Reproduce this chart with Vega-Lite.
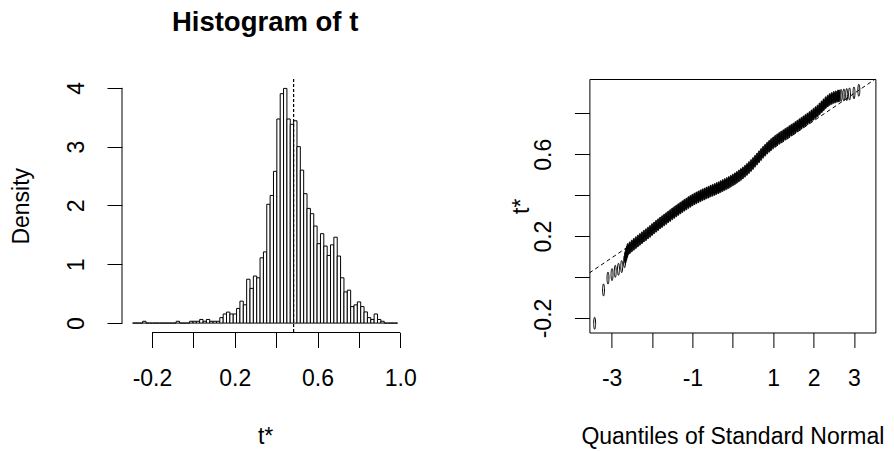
{
  "$schema": "https://vega.github.io/schema/vega-lite/v6.json",
  "background": "white",
  "padding": {"left": 10, "top": 9, "right": 0, "bottom": 0},
  "bounds": "flush",
  "spacing": 180.4,
  "config": {
    "font": "Liberation Sans",
    "view": {"stroke": null},
    "axis": {
      "domain": false, "grid": false,
      "tickColor": "black", "tickSize": 15, "tickWidth": 1,
      "labelColor": "black", "labelFont": "Liberation Sans", "labelFontSize": 23,
      "titleFont": "Liberation Sans", "titleFontSize": 23, "titleFontWeight": "normal", "titleColor": "black",
      "labelBaseline": "alphabetic", "titleBaseline": "alphabetic",
      "labelOverlap": false, "labelFlush": false, "labelBound": false
    }
  },
  "datasets": {
    "hist": [
      {"lo": -0.2937, "hi": -0.2775, "density": 0},
      {"lo": -0.2775, "hi": -0.2613, "density": 0},
      {"lo": -0.2613, "hi": -0.2451, "density": 0},
      {"lo": -0.2451, "hi": -0.2288, "density": 0.031},
      {"lo": -0.2288, "hi": -0.2126, "density": 0},
      {"lo": -0.2126, "hi": -0.1964, "density": 0},
      {"lo": -0.1964, "hi": -0.1802, "density": 0},
      {"lo": -0.1802, "hi": -0.1640, "density": 0},
      {"lo": -0.1640, "hi": -0.1478, "density": 0},
      {"lo": -0.1478, "hi": -0.1316, "density": 0},
      {"lo": -0.1316, "hi": -0.1154, "density": 0},
      {"lo": -0.1154, "hi": -0.0992, "density": 0},
      {"lo": -0.0992, "hi": -0.0830, "density": 0},
      {"lo": -0.0830, "hi": -0.0667, "density": 0.031},
      {"lo": -0.0667, "hi": -0.0505, "density": 0},
      {"lo": -0.0505, "hi": -0.0343, "density": 0},
      {"lo": -0.0343, "hi": -0.0181, "density": 0},
      {"lo": -0.0181, "hi": -0.0019, "density": 0.031},
      {"lo": -0.0019, "hi": 0.0143, "density": 0.031},
      {"lo": 0.0143, "hi": 0.0305, "density": 0.031},
      {"lo": 0.0305, "hi": 0.0467, "density": 0.062},
      {"lo": 0.0467, "hi": 0.0629, "density": 0.031},
      {"lo": 0.0629, "hi": 0.0792, "density": 0.062},
      {"lo": 0.0792, "hi": 0.0954, "density": 0.031},
      {"lo": 0.0954, "hi": 0.1116, "density": 0.031},
      {"lo": 0.1116, "hi": 0.1278, "density": 0.031},
      {"lo": 0.1278, "hi": 0.1440, "density": 0.093},
      {"lo": 0.1440, "hi": 0.1602, "density": 0.155},
      {"lo": 0.1602, "hi": 0.1764, "density": 0.187},
      {"lo": 0.1764, "hi": 0.1926, "density": 0.155},
      {"lo": 0.1926, "hi": 0.2088, "density": 0.155},
      {"lo": 0.2088, "hi": 0.2250, "density": 0.249},
      {"lo": 0.2250, "hi": 0.2413, "density": 0.373},
      {"lo": 0.2413, "hi": 0.2575, "density": 0.311},
      {"lo": 0.2575, "hi": 0.2737, "density": 0.746},
      {"lo": 0.2737, "hi": 0.2899, "density": 0.59},
      {"lo": 0.2899, "hi": 0.3061, "density": 0.8},
      {"lo": 0.3061, "hi": 0.3223, "density": 0.77},
      {"lo": 0.3223, "hi": 0.3385, "density": 1.11},
      {"lo": 0.3385, "hi": 0.3547, "density": 1.21},
      {"lo": 0.3547, "hi": 0.3709, "density": 2.02},
      {"lo": 0.3709, "hi": 0.3871, "density": 2.17},
      {"lo": 0.3871, "hi": 0.4034, "density": 2.58},
      {"lo": 0.4034, "hi": 0.4196, "density": 3.47},
      {"lo": 0.4196, "hi": 0.4358, "density": 3.9},
      {"lo": 0.4358, "hi": 0.4520, "density": 3.99},
      {"lo": 0.4520, "hi": 0.4682, "density": 3.47},
      {"lo": 0.4682, "hi": 0.4844, "density": 3.38},
      {"lo": 0.4844, "hi": 0.5006, "density": 3.44},
      {"lo": 0.5006, "hi": 0.5168, "density": 3.0},
      {"lo": 0.5168, "hi": 0.5330, "density": 2.6},
      {"lo": 0.5330, "hi": 0.5492, "density": 2.2},
      {"lo": 0.5492, "hi": 0.5655, "density": 1.95},
      {"lo": 0.5655, "hi": 0.5817, "density": 1.86},
      {"lo": 0.5817, "hi": 0.5979, "density": 1.65},
      {"lo": 0.5979, "hi": 0.6141, "density": 1.35},
      {"lo": 0.6141, "hi": 0.6303, "density": 1.52},
      {"lo": 0.6303, "hi": 0.6465, "density": 1.31},
      {"lo": 0.6465, "hi": 0.6627, "density": 1.15},
      {"lo": 0.6627, "hi": 0.6789, "density": 1.33},
      {"lo": 0.6789, "hi": 0.6951, "density": 1.46},
      {"lo": 0.6951, "hi": 0.7113, "density": 1.14},
      {"lo": 0.7113, "hi": 0.7276, "density": 0.77},
      {"lo": 0.7276, "hi": 0.7438, "density": 0.53},
      {"lo": 0.7438, "hi": 0.7600, "density": 0.56},
      {"lo": 0.7600, "hi": 0.7762, "density": 0.28},
      {"lo": 0.7762, "hi": 0.7924, "density": 0.31},
      {"lo": 0.7924, "hi": 0.8086, "density": 0.36},
      {"lo": 0.8086, "hi": 0.8248, "density": 0.28},
      {"lo": 0.8248, "hi": 0.8410, "density": 0.19},
      {"lo": 0.8410, "hi": 0.8572, "density": 0.093},
      {"lo": 0.8572, "hi": 0.8734, "density": 0.062},
      {"lo": 0.8734, "hi": 0.8897, "density": 0.155},
      {"lo": 0.8897, "hi": 0.9059, "density": 0.062},
      {"lo": 0.9059, "hi": 0.9221, "density": 0.031},
      {"lo": 0.9221, "hi": 0.9383, "density": 0},
      {"lo": 0.9383, "hi": 0.9545, "density": 0},
      {"lo": 0.9545, "hi": 0.9707, "density": 0},
      {"lo": 0.9707, "hi": 0.9869, "density": 0}
    ],
    "qqtail": [
      {"q": -3.42, "t": -0.226},
      {"q": -3.20, "t": -0.063},
      {"q": -3.09, "t": -0.005},
      {"q": -2.99, "t": 0.012},
      {"q": -2.91, "t": 0.028},
      {"q": -2.83, "t": 0.038},
      {"q": -2.75, "t": 0.051},
      {"q": -2.68, "t": 0.075},
      {"q": 2.68, "t": 0.888},
      {"q": 2.75, "t": 0.890},
      {"q": 2.82, "t": 0.892},
      {"q": 2.89, "t": 0.895},
      {"q": 3.00, "t": 0.900},
      {"q": 3.12, "t": 0.913}
    ],
    "qqdense": [
      {"q": -2.66, "t": 0.095}, {"q": -2.64, "t": 0.11}, {"q": -2.62, "t": 0.122},
      {"q": -2.60, "t": 0.135}, {"q": -2.55, "t": 0.143}, {"q": -2.50, "t": 0.152},
      {"q": -2.45, "t": 0.160}, {"q": -2.40, "t": 0.168}, {"q": -2.35, "t": 0.176},
      {"q": -2.30, "t": 0.184}, {"q": -2.25, "t": 0.192}, {"q": -2.20, "t": 0.200},
      {"q": -2.15, "t": 0.207}, {"q": -2.10, "t": 0.215}, {"q": -2.05, "t": 0.223},
      {"q": -2.00, "t": 0.232}, {"q": -1.95, "t": 0.240}, {"q": -1.90, "t": 0.248},
      {"q": -1.85, "t": 0.256}, {"q": -1.80, "t": 0.264}, {"q": -1.75, "t": 0.271},
      {"q": -1.70, "t": 0.279}, {"q": -1.65, "t": 0.286}, {"q": -1.60, "t": 0.294},
      {"q": -1.55, "t": 0.301}, {"q": -1.50, "t": 0.309}, {"q": -1.45, "t": 0.316},
      {"q": -1.40, "t": 0.323}, {"q": -1.35, "t": 0.330}, {"q": -1.30, "t": 0.337},
      {"q": -1.25, "t": 0.344}, {"q": -1.20, "t": 0.351}, {"q": -1.15, "t": 0.357},
      {"q": -1.10, "t": 0.364}, {"q": -1.05, "t": 0.370}, {"q": -1.00, "t": 0.376},
      {"q": -0.95, "t": 0.382}, {"q": -0.90, "t": 0.387}, {"q": -0.85, "t": 0.392},
      {"q": -0.80, "t": 0.397}, {"q": -0.75, "t": 0.402}, {"q": -0.70, "t": 0.406},
      {"q": -0.65, "t": 0.411}, {"q": -0.60, "t": 0.415}, {"q": -0.55, "t": 0.420},
      {"q": -0.50, "t": 0.424}, {"q": -0.45, "t": 0.428}, {"q": -0.40, "t": 0.433},
      {"q": -0.35, "t": 0.437}, {"q": -0.30, "t": 0.442}, {"q": -0.25, "t": 0.447},
      {"q": -0.20, "t": 0.452}, {"q": -0.15, "t": 0.457}, {"q": -0.10, "t": 0.462},
      {"q": -0.05, "t": 0.468}, {"q": 0.00, "t": 0.474}, {"q": 0.05, "t": 0.480},
      {"q": 0.10, "t": 0.487}, {"q": 0.15, "t": 0.494}, {"q": 0.20, "t": 0.501},
      {"q": 0.25, "t": 0.509}, {"q": 0.30, "t": 0.517}, {"q": 0.35, "t": 0.526},
      {"q": 0.40, "t": 0.535}, {"q": 0.45, "t": 0.545}, {"q": 0.50, "t": 0.555},
      {"q": 0.55, "t": 0.566}, {"q": 0.60, "t": 0.577}, {"q": 0.65, "t": 0.588},
      {"q": 0.70, "t": 0.599}, {"q": 0.75, "t": 0.610}, {"q": 0.80, "t": 0.620},
      {"q": 0.85, "t": 0.630}, {"q": 0.90, "t": 0.639}, {"q": 0.95, "t": 0.648},
      {"q": 1.00, "t": 0.656}, {"q": 1.05, "t": 0.664}, {"q": 1.10, "t": 0.671},
      {"q": 1.15, "t": 0.678}, {"q": 1.20, "t": 0.685}, {"q": 1.25, "t": 0.691},
      {"q": 1.30, "t": 0.698}, {"q": 1.35, "t": 0.704}, {"q": 1.40, "t": 0.711},
      {"q": 1.45, "t": 0.718}, {"q": 1.50, "t": 0.724}, {"q": 1.55, "t": 0.731},
      {"q": 1.60, "t": 0.738}, {"q": 1.65, "t": 0.745}, {"q": 1.70, "t": 0.752},
      {"q": 1.75, "t": 0.759}, {"q": 1.80, "t": 0.766}, {"q": 1.85, "t": 0.773},
      {"q": 1.90, "t": 0.780}, {"q": 1.95, "t": 0.788}, {"q": 2.00, "t": 0.796},
      {"q": 2.05, "t": 0.804}, {"q": 2.10, "t": 0.812}, {"q": 2.15, "t": 0.822},
      {"q": 2.20, "t": 0.832}, {"q": 2.25, "t": 0.842}, {"q": 2.30, "t": 0.852},
      {"q": 2.35, "t": 0.860}, {"q": 2.40, "t": 0.868}, {"q": 2.45, "t": 0.873},
      {"q": 2.50, "t": 0.878}, {"q": 2.55, "t": 0.881}, {"q": 2.60, "t": 0.884},
      {"q": 2.63, "t": 0.886}
    ]
  },
  "hconcat": [
    {
      "width": 286.2,
      "height": 253.5,
      "title": {"text": "Histogram of t", "fontSize": 27.5, "fontWeight": "bold", "font": "Liberation Sans", "anchor": "middle", "baseline": "alphabetic", "offset": 19.5, "color": "black"},
      "layer": [
        {
          "data": {"name": "hist"},
          "mark": {"type": "rect", "fill": "white", "stroke": "black", "strokeWidth": 1},
          "encoding": {
            "x": {"field": "lo", "type": "quantitative",
                  "scale": {"domain": [-0.3449, 1.0381], "nice": false, "zero": false},
                  "axis": {"values": [-0.2, 0, 0.2, 0.4, 0.6, 0.8, 1.0], "title": "t*", "labelPadding": 37.8, "labelAlign": "center", "titleY": 110.8,
                           "labelExpr": "abs(datum.value + 0.2) < 0.01 ? '-0.2' : abs(datum.value - 0.2) < 0.01 ? '0.2' : abs(datum.value - 0.6) < 0.01 ? '0.6' : abs(datum.value - 1) < 0.01 ? '1.0' : ''"}},
            "x2": {"field": "hi"},
            "y": {"field": "density", "type": "quantitative",
                  "scale": {"domain": [-0.16, 4.15], "nice": false, "zero": false},
                  "axis": {"values": [0, 1, 2, 3, 4], "title": "Density", "labelAngle": 270, "labelAlign": "center", "labelPadding": 23.5, "titleX": -93.5, "titleAngle": 270,
                           "labelExpr": "'' + datum.value"}},
            "y2": {"datum": 0}
          }
        },
        {
          "data": {"values": [{}]},
          "mark": {"type": "rule", "color": "black", "strokeWidth": 1},
          "encoding": {"x": {"datum": -0.2}, "x2": {"datum": 1.0}, "y": {"datum": -0.16}}
        },
        {
          "data": {"values": [{}]},
          "mark": {"type": "rule", "color": "black", "strokeWidth": 1},
          "encoding": {"x": {"datum": -0.3449}, "y": {"datum": 0}, "y2": {"datum": 4}}
        },
        {
          "data": {"values": [{}]},
          "mark": {"type": "rule", "color": "black", "strokeWidth": 1.2, "strokeDash": [3, 2]},
          "encoding": {"x": {"datum": 0.4844}}
        }
      ]
    },
    {
      "width": 286,
      "height": 253.5,
      "view": {"stroke": "black", "strokeWidth": 1},
      "layer": [
        {
          "data": {"name": "qqdense"},
          "mark": {"type": "point", "shape": "M -0.16 0 A 0.16 1 0 1 0 0.16 0 A 0.16 1 0 1 0 -0.16 0 Z", "size": 144, "filled": true, "fill": "black", "stroke": "black", "strokeWidth": 1, "opacity": 1},
          "encoding": {
            "x": {"field": "q", "type": "quantitative",
                  "scale": {"domain": [-3.55, 3.53], "nice": false, "zero": false},
                  "axis": {"values": [-3, -2, -1, 0, 1, 2, 3], "title": "Quantiles of Standard Normal", "labelPadding": 37.8, "labelAlign": "center", "titleY": 110.8,
                           "labelExpr": "datum.value == -2 || datum.value == 0 ? '' : (datum.value < 0 ? '-' + abs(datum.value) : '' + datum.value)"}},
            "y": {"field": "t", "type": "quantitative",
                  "scale": {"domain": [-0.271, 0.968], "nice": false, "zero": false},
                  "axis": {"values": [-0.2, 0, 0.2, 0.4, 0.6, 0.8], "title": "t*", "labelAngle": 270, "labelAlign": "center", "labelPadding": 23.5, "titleX": -61, "titleAngle": 270,
                           "labelExpr": "abs(datum.value + 0.2) < 0.01 ? '-0.2' : abs(datum.value - 0.2) < 0.01 ? '0.2' : abs(datum.value - 0.6) < 0.01 ? '0.6' : ''"}}
          }
        },
        {
          "data": {"name": "qqtail"},
          "mark": {"type": "point", "shape": "M -0.16 0 A 0.16 1 0 1 0 0.16 0 A 0.16 1 0 1 0 -0.16 0 Z", "size": 144, "filled": false, "stroke": "black", "strokeWidth": 1, "opacity": 1},
          "encoding": {
            "x": {"field": "q", "type": "quantitative"},
            "y": {"field": "t", "type": "quantitative"}
          }
        },
        {
          "data": {"values": [{}]},
          "mark": {"type": "rule", "color": "black", "strokeWidth": 1, "strokeDash": [4, 3], "clip": true},
          "encoding": {"x": {"datum": -3.55}, "y": {"datum": 0.02}, "x2": {"datum": 3.53}, "y2": {"datum": 0.968}}
        }
      ]
    }
  ]
}
